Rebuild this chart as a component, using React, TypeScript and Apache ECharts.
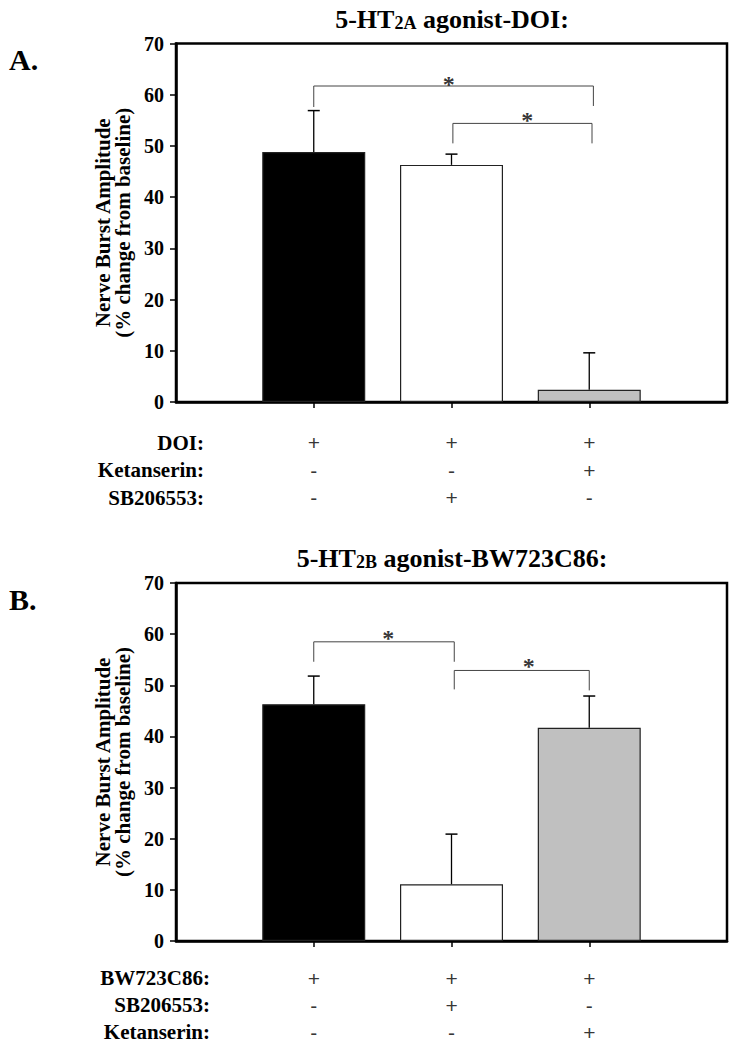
import React, { useEffect, useRef } from "react";
import * as echarts from "echarts";

const xPositions = [1, 2, 3];
const barColors = ["#000000", "#ffffff", "#c0c0c0"];

const aValues = [48.8, 46.3, 2.4];
const aErrors = [8.1, 2.1, 7.2];
const bValues = [46.3, 11.1, 41.7];
const bErrors = [5.5, 9.8, 6.2];

const yTicks = { min: 0, max: 70, interval: 10 };

// brackets: [x1, x2, top, leg1End, leg2End]
const aBrackets = [
  [1.0, 3.03, 61.7, 57.6, 57.8],
  [2.01, 3.02, 54.4, 50.5, 50.5],
];
const aStars = [
  [1.98, 62.9],
  [2.55, 55.9],
];
const bBrackets = [
  [1.0, 2.02, 58.5, 54.6, 54.6],
  [2.02, 3.0, 52.9, 49.2, 49.0],
];
const bStars = [
  [1.54, 60.1],
  [2.56, 54.6],
];

const aRows = ["DOI:", "Ketanserin:", "SB206553:"];
const aSigns = [
  ["+", "+", "+"],
  ["-", "-", "+"],
  ["-", "+", "-"],
];
const bRows = ["BW723C86:", "SB206553:", "Ketanserin:"];
const bSigns = [
  ["+", "+", "+"],
  ["-", "+", "-"],
  ["-", "-", "+"],
];

const SERIF = "Liberation Serif";
const SANS = "Liberation Sans";

function buildPanel(idx: number, tableIdx: number, values: number[], errors: number[], brackets: number[][], stars: number[][], signs: string[][]) {
  const series: any[] = [];
  series.push({
    type: "bar",
    xAxisIndex: idx,
    yAxisIndex: idx,
    barWidth: 103,
    data: values.map((v, i) => ({
      value: [xPositions[i], v],
      itemStyle: { color: barColors[i], borderColor: "#222", borderWidth: 1.2 },
    })),
    z: 2,
  });
  series.push({
    type: "custom",
    xAxisIndex: idx,
    yAxisIndex: idx,
    z: 4,
    data: values.map((v, i) => [xPositions[i], v, errors[i]]),
    renderItem: (params: any, api: any) => {
      const x = api.value(0);
      const v = api.value(1);
      const e = api.value(2);
      const p0 = api.coord([x, v]);
      const p1 = api.coord([x, v + e]);
      return {
        type: "group",
        children: [
          { type: "line", shape: { x1: p0[0], y1: p0[1], x2: p1[0], y2: p1[1] }, style: { stroke: "#000", lineWidth: 1.3 } },
          { type: "line", shape: { x1: p1[0] - 6, y1: p1[1], x2: p1[0] + 6, y2: p1[1] }, style: { stroke: "#000", lineWidth: 1.5 } },
        ],
      };
    },
  });
  brackets.forEach((b) => {
    series.push({
      type: "line",
      xAxisIndex: idx,
      yAxisIndex: idx,
      symbol: "none",
      z: 5,
      lineStyle: { color: "#444", width: 1 },
      data: [
        [b[0], b[3]],
        [b[0], b[2]],
        [b[1], b[2]],
        [b[1], b[4]],
      ],
    });
  });
  series.push({
    type: "scatter",
    xAxisIndex: idx,
    yAxisIndex: idx,
    symbolSize: 1,
    itemStyle: { color: "rgba(0,0,0,0)" },
    z: 6,
    data: stars,
    label: {
      show: true,
      position: "inside",
      formatter: "*",
      fontFamily: SERIF,
      fontWeight: "bold",
      fontSize: 24,
      color: "#000",
      offset: [0, 4],
    },
  });
  const flatSigns: string[] = [];
  const tableData: number[][] = [];
  signs.forEach((row, ri) =>
    row.forEach((s, ci) => {
      flatSigns.push(s);
      tableData.push([xPositions[ci], ri]);
    })
  );
  series.push({
    type: "scatter",
    xAxisIndex: tableIdx,
    yAxisIndex: tableIdx,
    symbolSize: 1,
    itemStyle: { color: "rgba(0,0,0,0)" },
    data: tableData,
    label: {
      show: true,
      position: "inside",
      formatter: (p: any) => flatSigns[p.dataIndex],
      fontFamily: SANS,
      fontSize: 21,
      color: "#000",
    },
  });
  return series;
}

function plotX(gridIndex: number) {
  return {
    type: "value",
    gridIndex,
    min: 0,
    max: 4,
    interval: 1,
    axisLine: { show: true, lineStyle: { color: "#000", width: 2.5 } },
    axisTick: { show: true, customValues: xPositions, length: 6, lineStyle: { color: "#000", width: 1.5 } },
    axisLabel: { show: false },
    splitLine: { show: false },
  };
}

function plotY(gridIndex: number) {
  return {
    type: "value",
    gridIndex,
    min: yTicks.min,
    max: yTicks.max,
    interval: yTicks.interval,
    axisLine: { show: true, lineStyle: { color: "#000", width: 2.5 } },
    axisTick: { show: true, length: 6, lineStyle: { color: "#000", width: 1.5 } },
    axisLabel: { fontFamily: SERIF, fontWeight: "bold", fontSize: 20, color: "#000", margin: 12 },
    splitLine: { show: false },
    name: "Nerve Burst Amplitude\n(% change from baseline)",
    nameLocation: "middle",
    nameRotate: 90,
    nameGap: 43,
    nameTextStyle: { fontFamily: SERIF, fontWeight: "bold", fontSize: 21, lineHeight: 20, color: "#000" },
  };
}

function tableX(gridIndex: number) {
  return { type: "value", gridIndex, min: 0, max: 4, show: false };
}

function tableY(gridIndex: number, rows: string[], offset: number) {
  return {
    type: "category",
    gridIndex,
    data: rows,
    inverse: true,
    offset,
    axisLine: { show: false },
    axisTick: { show: false },
    axisLabel: { interval: 0, hideOverlap: false, fontFamily: SERIF, fontWeight: "bold", fontSize: 21, color: "#000", margin: 0 },
    splitLine: { show: false },
  };
}

function titleText(x: number, y: number, pre: string, sub: string, post: string) {
  return {
    type: "text",
    x,
    y,
    style: {
      text: `{a|${pre}}{b|${sub}}{a|${post}}`,
      align: "center",
      verticalAlign: "middle",
      fill: "#000",
      rich: {
        a: { fontFamily: SERIF, fontWeight: "bold", fontSize: 26, verticalAlign: "bottom", lineHeight: 28 },
        b: { fontFamily: SERIF, fontWeight: "bold", fontSize: 18, verticalAlign: "bottom", lineHeight: 26 },
      },
    },
  };
}

export default function App() {
  const ref = useRef<HTMLDivElement>(null);
  useEffect(() => {
    if (!ref.current) return;
    const chart = echarts.init(ref.current, null, { renderer: "svg" });
    const option: any = {
      animation: false,
      backgroundColor: "#fff",
      grid: [
        { left: 176, top: 43.5, width: 551, height: 358.5, show: true, borderColor: "#000", borderWidth: 2.5, backgroundColor: "transparent" },
        { left: 176, top: 583, width: 551, height: 358, show: true, borderColor: "#000", borderWidth: 2.5, backgroundColor: "transparent" },
        { left: 176, top: 429, width: 551, height: 82.5 },
        { left: 176, top: 964.5, width: 551, height: 81 },
      ],
      xAxis: [plotX(0), plotX(1), tableX(2), tableX(3)],
      yAxis: [plotY(0), plotY(1), tableY(2, aRows, -28), tableY(3, bRows, -34)],
      series: [
        ...buildPanel(0, 2, aValues, aErrors, aBrackets, aStars, aSigns),
        ...buildPanel(1, 3, bValues, bErrors, bBrackets, bStars, bSigns),
      ],
      graphic: [
        titleText(452, 18, "5-HT", "2A", " agonist-DOI:"),
        titleText(452, 557, "5-HT", "2B", " agonist-BW723C86:"),
        { type: "text", x: 9, y: 59, style: { text: "A.", font: `bold 30px "${SERIF}"`, fill: "#000", verticalAlign: "middle" } },
        { type: "text", x: 9, y: 599, style: { text: "B.", font: `bold 30px "${SERIF}"`, fill: "#000", verticalAlign: "middle" } },
      ],
    };
    chart.setOption(option);
    return () => chart.dispose();
  }, []);
  return <div ref={ref} style={{ position: "absolute", left: 0, top: 0, width: 736, height: 1050 }} />;
}
